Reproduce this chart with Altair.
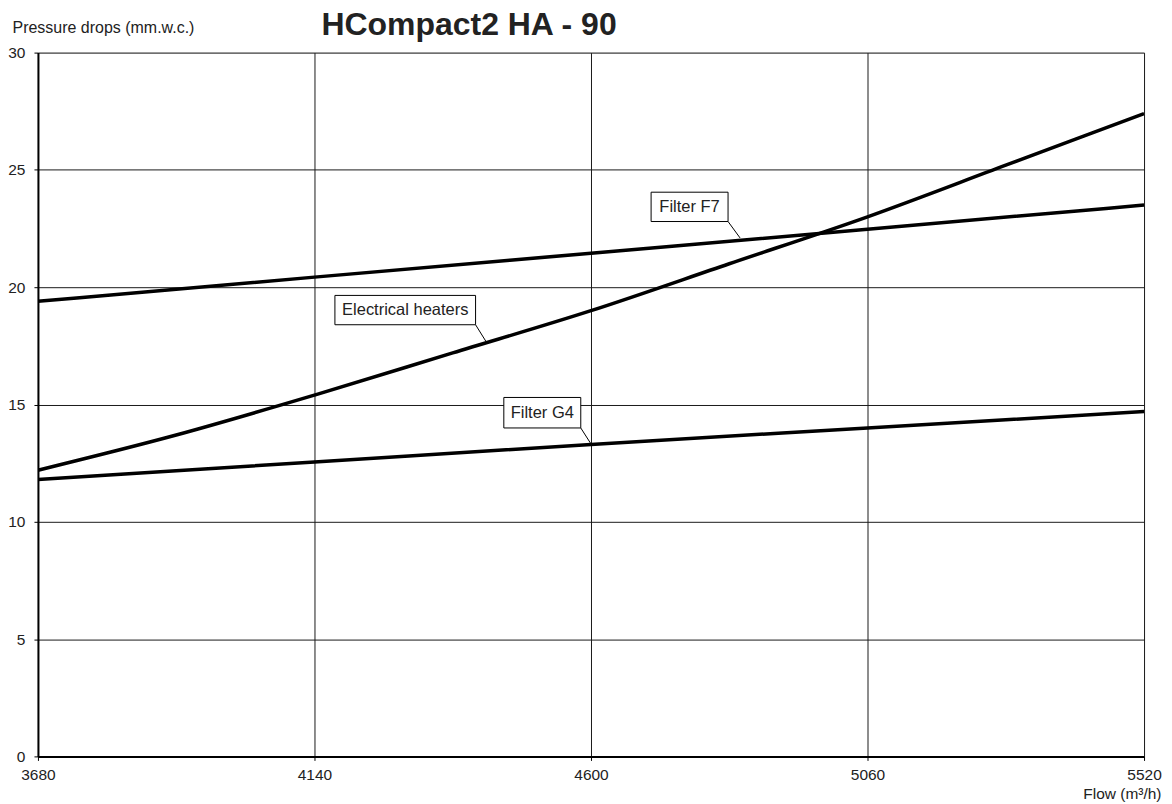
import altair as alt
import pandas as pd

# Flow (m3/h) and pressure drop (mm.w.c.) values
heater_flow = [3680, 3910, 4140, 4370, 4600, 4830, 5060, 5290, 5520]
heater_dp = [12.2, 13.7, 15.4, 17.2, 19.0, 21.0, 23.0, 25.2, 27.4]

filter_flow = [3680, 4140, 4600, 5060, 5520]
f7_dp = [19.4, 20.43, 21.45, 22.47, 23.5]
g4_dp = [11.8, 12.55, 13.3, 14.0, 14.7]

x_ticks = [3680, 4140, 4600, 5060, 5520]
y_ticks = [0, 5, 10, 15, 20, 25, 30]

# annotation boxes (data units)
ann_text = ["Filter F7", "Electrical heaters", "Filter G4"]
ann_x1 = [4700, 4174, 4455]
ann_x2 = [4828, 4408, 4583]
ann_y1 = [22.8, 18.4, 14.0]
ann_y2 = [24.05, 19.65, 15.3]
ann_px = [4848, 4425, 4599]
ann_py = [22.1, 17.7, 13.36]

title_text = ["HCompact2 HA - 90"]

FONT = "Liberation Sans"
TXT = "#222222"

lines_df = pd.concat([
    pd.DataFrame({"flow": heater_flow, "dp": heater_dp, "series": "Electrical heaters"}),
    pd.DataFrame({"flow": filter_flow, "dp": f7_dp, "series": "Filter F7"}),
    pd.DataFrame({"flow": filter_flow, "dp": g4_dp, "series": "Filter G4"}),
])

ann_df = pd.DataFrame({
    "text": ann_text, "x1": ann_x1, "x2": ann_x2, "y1": ann_y1, "y2": ann_y2,
    "px": ann_px, "py": ann_py,
})
ann_df["cx"] = (ann_df["x1"] + ann_df["x2"]) / 2
ann_df["cy"] = (ann_df["y1"] + ann_df["y2"]) / 2

xscale = alt.Scale(domain=[3680, 5520], nice=False, zero=False)
yscale = alt.Scale(domain=[0, 30], nice=False)

xaxis = alt.Axis(
    values=x_ticks, format="d", title="Flow (m³/h)", labelFlush=False,
    labelFont=FONT, labelFontSize=15.5, labelColor=TXT, labelPadding=7,
    tickColor="black", tickSize=4, domainColor="black", domainWidth=2,
    grid=True, gridColor="#1a1a1a", gridWidth=1, gridOpacity=1,
    titleFont=FONT, titleFontSize=15.5, titleFontWeight="normal", titleColor=TXT,
    titleAlign="right", titleAnchor="end", titleX=1125, titleY=37, titleBaseline="middle",
)
yaxis = alt.Axis(
    values=y_ticks, title="Pressure drops (mm.w.c.)", labelFlush=False,
    labelFont=FONT, labelFontSize=15.5, labelColor=TXT, labelPadding=9,
    tickColor="black", tickSize=4, domainColor="black", domainWidth=2,
    grid=True, gridColor="#1a1a1a", gridWidth=1, gridOpacity=1,
    titleFont=FONT, titleFontSize=16, titleFontWeight="normal", titleColor=TXT,
    titleAngle=0, titleAlign="left", titleX=-26, titleY=-25, titleBaseline="middle",
)

base_lines = alt.Chart(lines_df).mark_line(
    color="black", strokeWidth=3.5, interpolate="monotone", clip=True
).encode(
    x=alt.X("flow:Q", scale=xscale, axis=xaxis),
    y=alt.Y("dp:Q", scale=yscale, axis=yaxis),
    detail="series:N",
)

ann = alt.Chart(ann_df)
leaders = ann.mark_rule(color="black", strokeWidth=1).encode(
    x="x2:Q", y="y1:Q", x2="px:Q", y2="py:Q"
)
boxes = ann.mark_rect(fill="white", stroke="black", strokeWidth=1).encode(
    x="x1:Q", x2="x2:Q", y="y1:Q", y2="y2:Q"
)
texts = ann.mark_text(font=FONT, fontSize=16.5, color=TXT, align="center", baseline="middle").encode(
    x="cx:Q", y="cy:Q", text="text:N"
)

title = alt.Chart(pd.DataFrame({"t": title_text})).mark_text(
    font=FONT, fontSize=32, fontWeight="bold", color=TXT, align="left", baseline="alphabetic"
).encode(x=alt.value(284), y=alt.value(-17.5), text="t:N")

chart = alt.layer(base_lines, leaders, boxes, texts, title).properties(
    width=1108, height=705,
    autosize=alt.AutoSizeParams(type="none"),
    padding={"left": 30, "top": 44, "right": 20, "bottom": 45},
).configure_view(stroke=None).configure(background="white")

chart.save("out.html", embed_options={"renderer": "svg", "actions": False})
